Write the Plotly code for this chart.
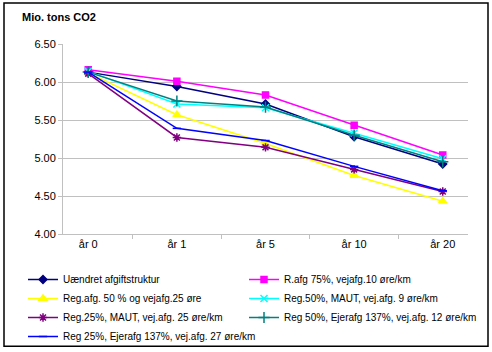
import plotly.graph_objects as go

categories = ["år 0", "år 1", "år 5", "år 10", "år 20"]

s_uaendret = [6.13, 5.94, 5.71, 5.28, 4.92]
s_rafg75 = [6.16, 6.01, 5.83, 5.43, 5.04]
s_reg50_vej25 = [6.12, 5.57, 5.19, 4.77, 4.43]
s_reg50_maut = [6.14, 5.71, 5.66, 5.33, 4.99]
s_reg25_maut = [6.11, 5.27, 5.14, 4.85, 4.56]
s_reg50_ejer = [6.13, 5.75, 5.67, 5.30, 4.95]
s_reg25_ejer = [6.13, 5.39, 5.23, 4.89, 4.57]

names = [
    "Uændret afgiftstruktur",
    "R.afg 75%, vejafg.10 øre/km",
    "Reg.afg. 50 % og vejafg.25 øre",
    "Reg.50%, MAUT, vej.afg. 9 øre/km",
    "Reg.25%, MAUT, vej.afg. 25 øre/km",
    "Reg 50%, Ejerafg 137%, vej.afg. 12 øre/km",
    "Reg 25%, Ejerafg 137%, vej.afg. 27 øre/km",
]
series = [s_uaendret, s_rafg75, s_reg50_vej25, s_reg50_maut, s_reg25_maut, s_reg50_ejer, s_reg25_ejer]
colors = ["#000080", "#FF00FF", "#FFFF00", "#00FFFF", "#800080", "#008080", "#0000FF"]
symbols = ["diamond", "square", "triangle-up", "x-thin-open", "asterisk-open", "cross-thin-open", "line-ew-open"]
msizes = [6, 6, 7, 7, 7, 8, 6]
legends = ["legend", "legend2", "legend", "legend2", "legend", "legend2", "legend"]

FONT = "Arial, Liberation Sans, sans-serif"
fig = go.Figure()
for nm, ys, c, sym, ms, lg in zip(names, series, colors, symbols, msizes, legends):
    fig.add_trace(go.Scatter(
        x=categories, y=ys, name=nm, mode="lines+markers",
        line=dict(color=c, width=1.5),
        marker=dict(symbol=sym, size=ms, color=c, line=dict(color=c, width=1.5)),
        legend=lg,
    ))

W, H = 492, 352
l, r, t, b = 63, 24, 44, 117.5
pw, ph = W - l - r, H - t - b

def px2paper_x(px):
    return (px - l) / pw

def px2paper_y(py):
    return (H - b - py) / ph

fig.update_layout(
    width=W, height=H,
    margin=dict(l=l, r=r, t=t, b=b, pad=0, autoexpand=False),
    paper_bgcolor="white", plot_bgcolor="white",
    font=dict(family=FONT, size=11, color="black"),
    title=dict(text="<b>Mio. tons CO2</b>", font=dict(size=11, family=FONT),
               xref="container", x=22 / W, xanchor="left",
               yref="container", y=1 - 17 / H, yanchor="middle"),
    xaxis=dict(showline=True, linecolor="#C0C0C0", linewidth=1,
               ticks="outside", ticklen=4, tickcolor="#C0C0C0",
               tickson="boundaries", showgrid=False, zeroline=False,
               tickfont=dict(size=11)),
    yaxis=dict(range=[4, 6.5], dtick=0.5, tickformat=".2f",
               showline=True, linecolor="#C0C0C0", linewidth=1,
               ticks="outside", ticklen=4, tickcolor="#C0C0C0",
               showgrid=True, gridcolor="#C0C0C0", gridwidth=1, zeroline=False,
               tickfont=dict(size=11)),
    legend=dict(xref="container", yref="container",
                x=23 / W, y=1 - 265 / H, xanchor="left", yanchor="top",
                orientation="v", font=dict(size=10, family=FONT), itemwidth=30,
                bgcolor="rgba(0,0,0,0)", tracegroupgap=0),
    legend2=dict(xref="container", yref="container",
                 x=244 / W, y=1 - 265 / H, xanchor="left", yanchor="top",
                 orientation="v", font=dict(size=10, family=FONT), itemwidth=30,
                 bgcolor="rgba(0,0,0,0)", tracegroupgap=0),
    showlegend=True,
)

fig.add_shape(type="rect", xref="paper", yref="paper",
              x0=px2paper_x(4), x1=px2paper_x(488), y0=px2paper_y(347), y1=px2paper_y(3),
              line=dict(color="black", width=1.5), layer="above")

fig.write_html("out.html")
